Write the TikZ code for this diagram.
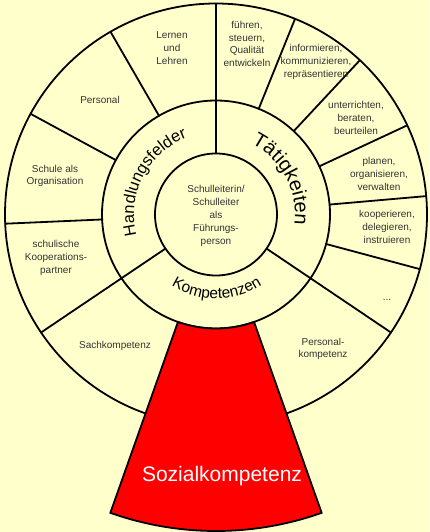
\documentclass[tikz,border=0pt]{standalone}
\usepackage{fontspec}
\setmainfont{Liberation Sans}
\usetikzlibrary{decorations.text}
\definecolor{bg}{HTML}{FFFFCC}
\definecolor{txt}{HTML}{333333}
\begin{document}
\begin{tikzpicture}[x=1pt,y=1pt,
  lbl/.style={align=center,font=\fontsize{10}{12.8}\selectfont,text=txt,inner sep=0pt},
  ln/.style={line width=1.8pt,line cap=round}]
\fill[bg] (-216,-317.5) rectangle (213,214.5);
\useasboundingbox (-216,-317.5) rectangle (213,214.5);
\coordinate (c) at (0,0);
% circles
\draw[ln] (c) circle (211);
\draw[ln] (c) circle (114);
\draw[ln] (c) circle (61);
% dividers
\foreach \a in {90,214,326} \draw[ln] (\a:61) -- (\a:211);
\foreach \a in {120,151.5,182.5,68,47,25,5,-15} \draw[ln] (\a:114) -- (\a:211);
% red sector
\draw[ln,line cap=butt,fill=red] (250.5:114) arc (250.5:289.5:114) -- (289.5:316.5) arc (289.5:250.5:316.5) -- cycle;
% ring labels
\path[decorate,decoration={text along path,text align=center,
  text={|\fontsize{20}{20}\selectfont|Tätigkeiten}}] (84:79) arc (84:-28:79);
\path[decorate,decoration={text along path,text align=center,
  text={|\fontsize{16.5}{16.5}\selectfont|Handlungsfelder}}] (205:82) arc (205:100:82);
\path[decorate,decoration={text along path,text align=center,
  text={|\fontsize{15.5}{15.5}\selectfont|Kompetenzen}}] (225:84) arc (225:316:84);
% labels
\node[lbl] (center) at (0,-1.5) {Schulleiterin/\\Schulleiter\\als\\Führungs-\\person};
\node[lbl] (lernen) at (-44,166.5) {Lernen\\und\\Lehren};
\node[lbl] (personal) at (-116,114.5) {Personal};
\node[lbl] (schule) at (-161,38.5) {Schule als\\Organisation};
\node[lbl] (koop) at (-160,-43.5) {schulische\\Kooperations-\\partner};
\node[lbl] (sach) at (-101,-131.5) {Sachkompetenz};
\node[lbl] (perskomp) at (107,-134.5) {Personal-\\kompetenz};
\node[lbl] (fuehren) at (31,170.5) {führen,\\steuern,\\Qualität\\entwickeln};
\node[lbl] (inform) at (100,152.5) {informieren,\\kommunizieren,\\repräsentieren};
\node[lbl] (unterr) at (140,96.5) {unterrichten,\\beraten,\\beurteilen};
\node[lbl] (planen) at (163,40.5) {planen,\\organisieren,\\verwalten};
\node[lbl] (kooper) at (171,-12.5) {kooperieren,\\delegieren,\\instruieren};
\node[lbl] (dots) at (171,-85.5) {...};
\node[text=white,font=\fontsize{21}{21}\selectfont,inner sep=0pt] (sozial) at (6,-261.5) {Sozialkompetenz};
\end{tikzpicture}
\end{document}
